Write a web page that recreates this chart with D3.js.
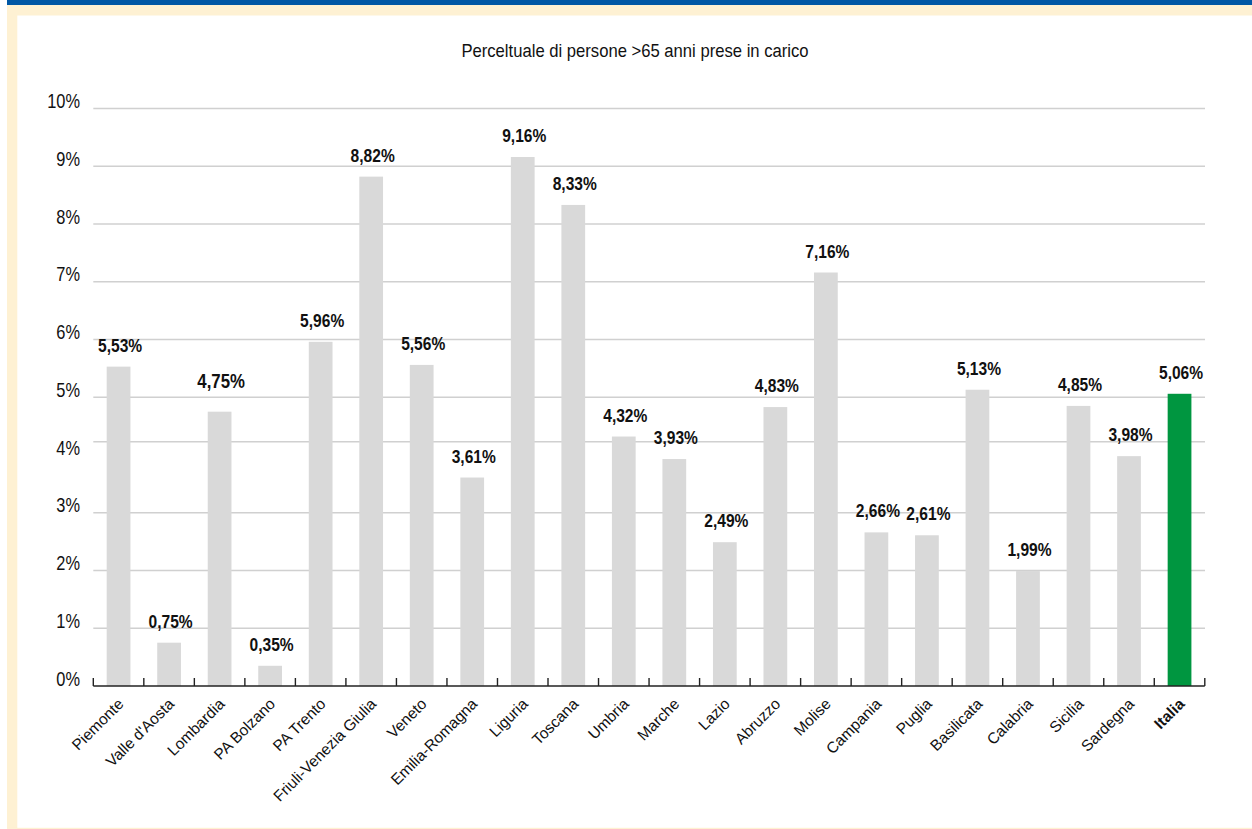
<!DOCTYPE html>
<html>
<head>
<meta charset="utf-8">
<script src="https://cdn.jsdelivr.net/npm/d3@7"></script>
<style>
  html, body { margin: 0; padding: 0; background: #ffffff; }
  svg { display: block; }
  text { font-family: "Liberation Sans", Arial, sans-serif; }
</style>
</head>
<body>
<svg id="chart" width="1252" height="829"></svg>
<script>
// ---- data ----
const categories = ["Piemonte", "Valle d'Aosta", "Lombardia", "PA Bolzano", "PA Trento",
  "Friuli-Venezia Giulia", "Veneto", "Emilia-Romagna", "Liguria", "Toscana", "Umbria",
  "Marche", "Lazio", "Abruzzo", "Molise", "Campania", "Puglia", "Basilicata", "Calabria",
  "Sicilia", "Sardegna", "Italia"];
const values = [5.53, 0.75, 4.75, 0.35, 5.96, 8.82, 5.56, 3.61, 9.16, 8.33, 4.32,
  3.93, 2.49, 4.83, 7.16, 2.66, 2.61, 5.13, 1.99, 4.85, 3.98, 5.06];
const yTickValues = [0, 1, 2, 3, 4, 5, 6, 7, 8, 9, 10];
const yTickLabels = ["0%", "1%", "2%", "3%", "4%", "5%", "6%", "7%", "8%", "9%", "10%"];
const gridValues = [1, 2, 3, 4.23, 5, 6, 7, 8, 9, 10];
const title = "Perceltuale di persone >65 anni prese in carico";
const totalCategory = "Italia";

// ---- layout ----
const W = 1252, H = 829;
const svg = d3.select("#chart");
const NARROW = 0.82;

// frame
svg.append("rect").attr("x", 7).attr("y", 0).attr("width", W - 7).attr("height", 5).attr("fill", "#0057a5");
svg.append("rect").attr("x", 7).attr("y", 5).attr("width", W - 7).attr("height", 10.5).attr("fill", "#fef1d3");
svg.append("rect").attr("x", 7).attr("y", 5).attr("width", 10.3).attr("height", H - 5).attr("fill", "#fef1d3");
svg.append("rect").attr("x", 7).attr("y", 827.8).attr("width", W - 7).attr("height", 2).attr("fill", "#fef1d3");

const x = d3.scaleBand().domain(categories).range([93.3, 1204.8]).paddingInner(0.53).paddingOuter(0.265);
const y = d3.scaleLinear().domain([0, 10]).range([686, 108.5]);

// title
svg.append("text")
  .attr("transform", "translate(635,57) scale(0.9,1)")
  .attr("text-anchor", "middle")
  .attr("font-size", 18.5).attr("fill", "#111")
  .text(title);

// gridlines
svg.append("g").selectAll("line").data(gridValues).join("line")
  .attr("x1", 93.3).attr("x2", 1205)
  .attr("y1", d => y(d)).attr("y2", d => y(d))
  .attr("stroke", "#d0d0d0").attr("stroke-width", 1.4);

// y labels
svg.append("g").selectAll("text").data(yTickValues).join("text")
  .attr("transform", d => `translate(80,${y(d) - 0.3}) scale(${NARROW},1)`)
  .attr("text-anchor", "end")
  .attr("font-size", 20).attr("fill", "#111")
  .text((d, i) => yTickLabels[i]);

// bars
svg.append("g").selectAll("rect").data(categories).join("rect")
  .attr("x", d => x(d)).attr("width", x.bandwidth())
  .attr("y", (d, i) => y(values[i]))
  .attr("height", (d, i) => y(0) - y(values[i]))
  .attr("fill", d => d === totalCategory ? "#009640" : "#d9d9d9");

// x axis line + ticks at category boundaries
const step = x.step();
const r0 = x.range()[0];
const axis = svg.append("g");
axis.append("line").attr("x1", r0).attr("x2", r0 + step * categories.length)
  .attr("y1", y(0)).attr("y2", y(0)).attr("stroke", "#222").attr("stroke-width", 1.6);
axis.selectAll("line.tick").data(d3.range(categories.length + 1)).join("line")
  .attr("class", "tick")
  .attr("x1", i => r0 + i * step).attr("x2", i => r0 + i * step)
  .attr("y1", y(0)).attr("y2", y(0) - 8)
  .attr("stroke", "#222").attr("stroke-width", 1.4);

// value labels
const fmt = d3.format(".2f");
svg.append("g").selectAll("text").data(categories).join("text")
  .attr("transform", (d, i) => {
    const cx = x(d) + x.bandwidth() / 2 + 1.5;
    const cy = y(values[i]) - (d === "Lombardia" ? 23.5 : 15);
    return `translate(${cx},${cy}) scale(${NARROW},1)`;
  })
  .attr("text-anchor", "middle")
  .attr("font-weight", "bold")
  .attr("font-size", d => d === "Lombardia" ? 20.5 : 19)
  .attr("fill", "#111")
  .text((d, i) => fmt(values[i]).replace(".", ",") + "%");

// x category labels
svg.append("g").selectAll("text").data(categories).join("text")
  .attr("transform", d => `translate(${x(d) + x.bandwidth() / 2 + 6},${y(0) + 19}) rotate(-45)`)
  .attr("text-anchor", "end")
  .attr("font-size", 15.5)
  .attr("font-weight", d => d === totalCategory ? "bold" : "normal")
  .attr("fill", "#111")
  .text(d => d);
</script>
</body>
</html>
